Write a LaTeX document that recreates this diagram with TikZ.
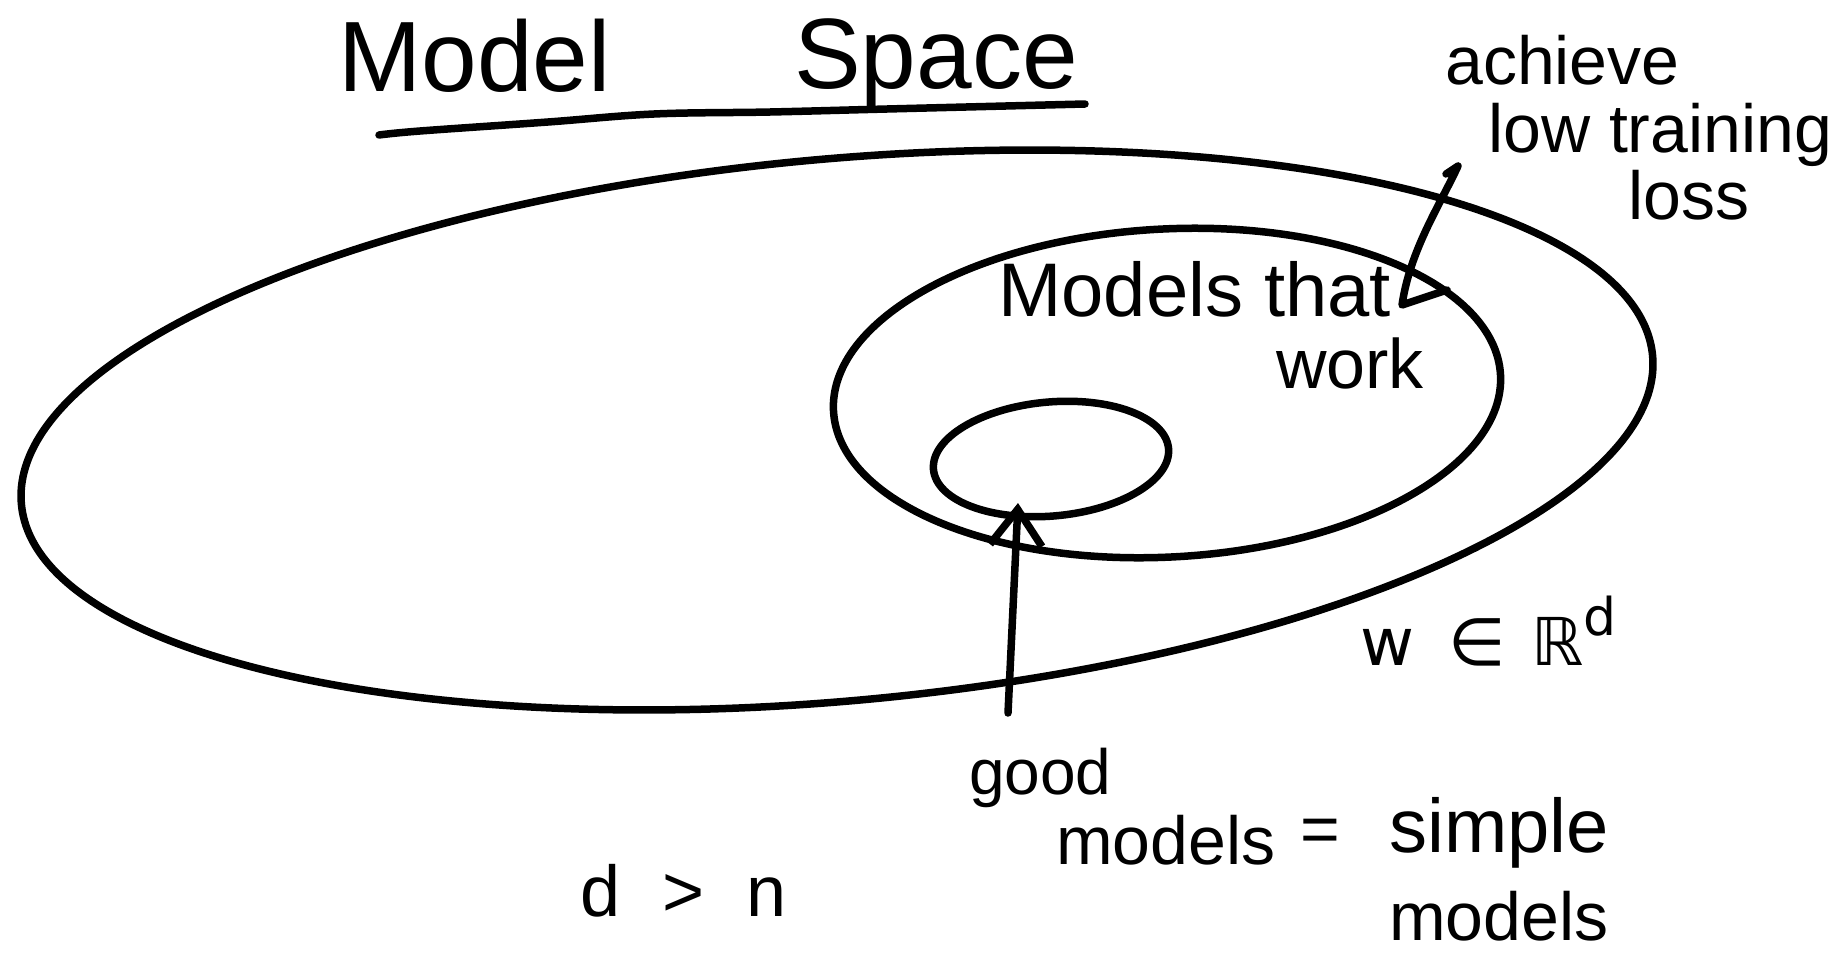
\documentclass[tikz,border=0pt]{standalone}
\usepackage{fontspec}
\setmainfont{Liberation Sans}
\newfontfamily\symfont{DejaVu Sans}
\usetikzlibrary{arrows.meta}
\begin{document}
\begin{tikzpicture}[x=1pt,y=-1pt,
  ink/.style={line width=7.5pt, line cap=round, line join=round},
  hand/.style={inner sep=0pt, anchor=base west, font=\fontsize{68pt}{80pt}\selectfont},
  titletext/.style={inner sep=0pt, anchor=base west, font=\fontsize{100pt}{110pt}\selectfont},
  barb/.style={-{Straight Barb[length=36pt,width=52pt,line width=7.5pt]}}]
\useasboundingbox (0,0) rectangle (1830,961);
\fill[white] (0,0) rectangle (1830,961);

% title
\node[titletext] (model) at (338,91) {Model};
\node[titletext] (space) at (794,88) {Space};
\draw[ink] plot[smooth, tension=0.6] coordinates {(379,135) (420,131) (548,122) (654,114) (770,112) (887,109) (1085,104)};

% ellipses
\draw[ink, rotate around={5.2:(837,430)}] (837,430) ellipse [x radius=819pt, y radius=271pt];
\draw[ink, rotate around={3.1:(1167,393)}] (1167,393) ellipse [x radius=334pt, y radius=164pt];
\draw[ink, rotate around={5.1:(1051,459)}] (1051,459) ellipse [x radius=118pt, y radius=57pt];

% labels
\node[hand] (achieve) at (1445,84) {achieve};
\node[hand] (lowtr) at (1488,152) {low training};
\node[hand] (loss) at (1628,219) {loss};
\node[hand, font=\fontsize{76pt}{90pt}\selectfont] (mtw) at (998,316) {Models that};
\node[hand, font=\fontsize{70pt}{90pt}\selectfont] (work) at (1276,388) {work};
\node[hand, font=\fontsize{64pt}{80pt}\selectfont] (good) at (969,794) {good};
\node[hand] (models1) at (1056,864) {models};
\node[hand] (eq) at (1300,852) {=};
\node[hand, font=\fontsize{76pt}{90pt}\selectfont] (simple) at (1389,852) {simple};
\node[hand] (models2) at (1389,940) {models};
\node[hand, font=\fontsize{72pt}{90pt}\selectfont] (dn) at (580,916) {d\hspace{42pt}>\hspace{42pt}n};
\node[hand, font=\symfont\fontsize{66pt}{80pt}\selectfont] (wR) at (1360,665) {w\hspace{34pt}∈\hspace{26pt}ℝ\raisebox{30pt}{\fontsize{52pt}{60pt}\selectfont d}};

% arrows
\coordinate (goodtop) at (1008,713);
\coordinate (innerpt) at (1018,503);
\draw[ink, barb] (goodtop) -- (innerpt);

\coordinate (hookA) at (1446,174);
\coordinate (hookB) at (1458,166);
\coordinate (midtip) at (1402,305);
\coordinate (barbend) at (1447,290);
\draw[ink] (hookA) -- (hookB) .. controls (1440,205) and (1410,250) .. (midtip) -- (barbend);
\end{tikzpicture}
\end{document}
